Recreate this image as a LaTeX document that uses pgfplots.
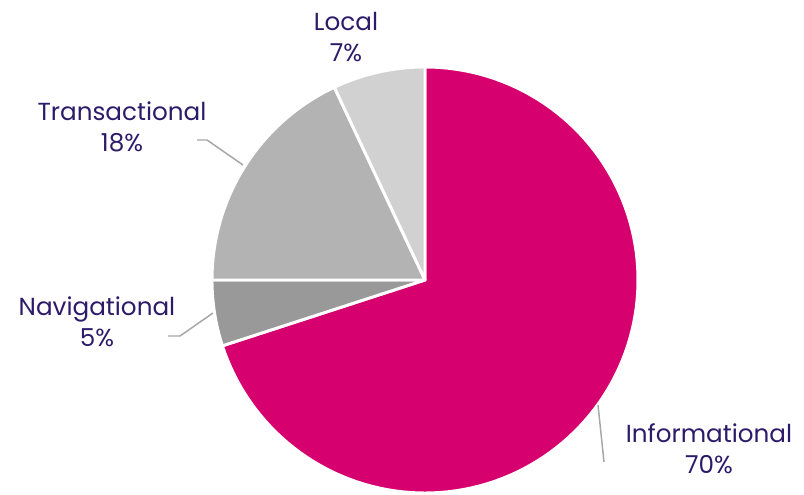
\documentclass[border=0pt]{standalone}
\usepackage{pgfplots}
\pgfplotsset{compat=1.18}
\usepackage{fontspec}
\setmainfont{Poppins}
\definecolor{txt}{HTML}{2D1B69}
\definecolor{mag}{HTML}{D6006F}
\definecolor{gA}{HTML}{999999}
\definecolor{gB}{HTML}{B3B3B3}
\definecolor{gC}{HTML}{D1D1D1}
\definecolor{lead}{HTML}{A6A6A6}
\tikzset{lab/.style={font=\fontsize{18.5}{23.25}\selectfont, text=txt, align=center, inner sep=0pt}}
\begin{document}
\begin{tikzpicture}
\begin{axis}[hide axis, x=0.75pt, y=0.75pt, xmin=-425, xmax=379, ymin=-210, ymax=280,
  enlargelimits=false, clip=false, scale only axis]
\path (axis cs:-425,-210) rectangle (axis cs:379,280);
% shares: Informational 70, Navigational 5, Transactional 18, Local 7 (clockwise from 12 o'clock)
\addplot[fill=mag, draw=white, line width=2.2pt, line join=round, data cs=polar, domain=-162:90, samples=120] (x,213) -- (0,0) -- cycle;
\addplot[fill=gA, draw=white, line width=2.2pt, line join=round, data cs=polar, domain=-180:-162, samples=20] (x,213) -- (0,0) -- cycle;
\addplot[fill=gB, draw=white, line width=2.2pt, line join=round, data cs=polar, domain=-244.8:-180, samples=40] (x,213) -- (0,0) -- cycle;
\addplot[fill=gC, draw=white, line width=2.2pt, line join=round, data cs=polar, domain=-270:-244.8, samples=20] (x,213) -- (0,0) -- cycle;
% leader lines
\addplot[lead, line width=1.1pt] coordinates {(-228,140) (-218,140) (-182,115)};
\addplot[lead, line width=1.1pt] coordinates {(-257,-56) (-245,-56) (-212,-33)};
\addplot[lead, line width=1.1pt] coordinates {(179,-182) (173,-125)};
% labels
\node[lab] at (axis cs:-303,153) {Transactional\\18\%};
\node[lab] at (axis cs:-328,-42) {Navigational\\5\%};
\node[lab] at (axis cs:284,-169) {Informational\\70\%};
\node[lab] at (axis cs:-79,243) {Local\\7\%};
\end{axis}
\end{tikzpicture}
\end{document}
